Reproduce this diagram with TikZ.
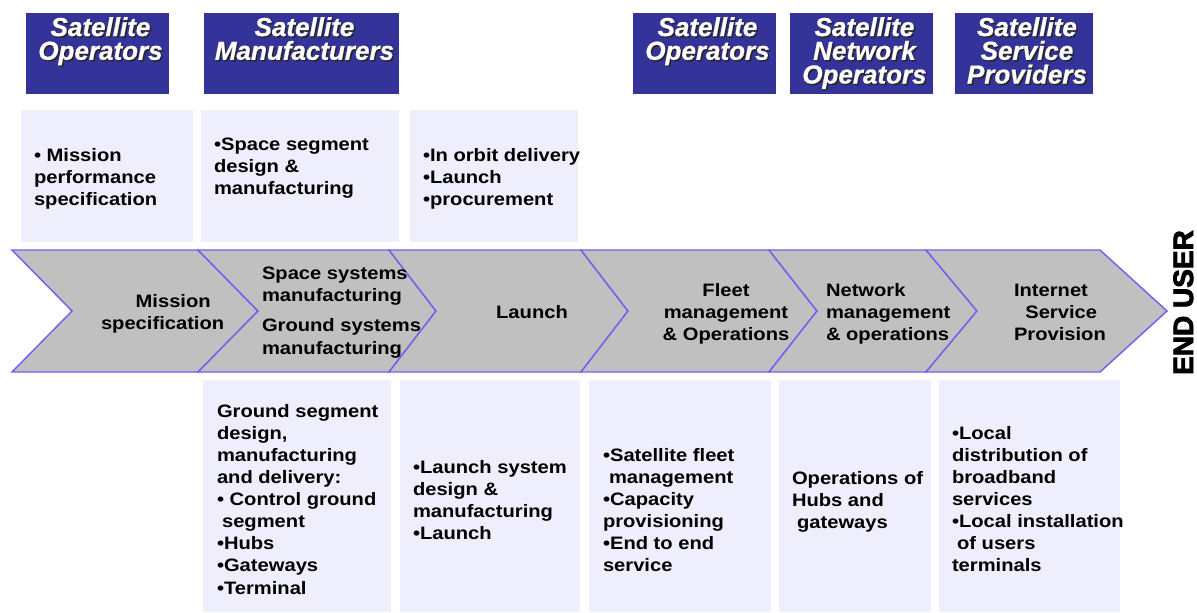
\documentclass[tikz,border=0pt]{standalone}
\usepackage{fontspec}
\setmainfont{Liberation Sans}
\newfontfamily\bodyfam{Liberation Sans}[FakeStretch=1.12]
\newfontfamily\hdrfam{Liberation Sans}[FakeBold=0.8]
\newfontfamily\heavyfam{Liberation Sans}[FakeBold=3]

\definecolor{hdrblue}{RGB}{51,51,153}
\definecolor{panel}{RGB}{238,238,252}
\definecolor{chevfill}{RGB}{192,192,192}
\definecolor{chevline}{RGB}{123,92,240}

% first-line struts: fix the height of the first line so "north" sits a known distance above its baseline
\newcommand\fl{\rule{0pt}{10.5pt}}
\newcommand\hfl{\rule{0pt}{14.5pt}}
% one header word, white over a dark drop shadow
\newcommand\shw[1]{\makebox[0pt][l]{\kern1.1pt\raisebox{-1.1pt}{\textcolor{black!85}{#1}}}#1}

\tikzset{
  hdrbox/.style={fill=hdrblue},
  panelbox/.style={fill=panel},
  chevron/.style={fill=chevfill, draw=chevline, line width=1.1pt, line join=miter},
  body/.style={font=\bodyfam\bfseries\fontsize{13.5pt}{16.6pt}\selectfont,
    text=black, inner sep=0pt, outer sep=0pt, align=left, anchor=north west},
  bodyc/.style={body, align=center, anchor=north},
  hdrtext/.style={font=\hdrfam\bfseries\itshape\fontsize{19.5pt}{17.8pt}\selectfont,
    text=white, inner sep=0pt, outer sep=0pt, align=center, anchor=north},
  enduser/.style={font=\heavyfam\bfseries\fontsize{21pt}{24pt}\selectfont,
    text=black, inner sep=0pt, anchor=base, rotate=90}
}

\begin{document}
\begin{tikzpicture}[x=0.75pt, y=-0.75pt]
\useasboundingbox (0,0) rectangle (1197,612);

% role headers
\fill[hdrbox] (26,13) rectangle (169,94);
\fill[hdrbox] (204,13) rectangle (399,94);
\fill[hdrbox] (633,13) rectangle (776,94);
\fill[hdrbox] (790,13) rectangle (933,94);
\fill[hdrbox] (955,13) rectangle (1093,94);
\node[hdrtext] (opA) at (100.5,16.7) {\hfl\shw{Satellite}\\\shw{Operators}};
\node[hdrtext] (man) at (304.5,16.7) {\hfl\shw{Satellite}\\\shw{Manufacturers}};
\node[hdrtext] (opB) at (707.5,16.7) {\hfl\shw{Satellite}\\\shw{Operators}};
\node[hdrtext] (netop) at (864.5,16.7) {\hfl\shw{Satellite}\\\shw{Network}\\\shw{Operators}};
\node[hdrtext] (svc) at (1027,16.7) {\hfl\shw{Satellite}\\\shw{Service}\\\shw{Providers}};

% upper activity panels
\fill[panelbox] (21,110) rectangle (193,242);
\fill[panelbox] (201,110) rectangle (399,242);
\fill[panelbox] (410,110) rectangle (578,242);
\node[body] (t1) at (34,147) {\fl• Mission\\performance\\specification};
\node[body] (t2) at (214,136) {\fl•Space segment\\design \&\\manufacturing};
\node[body] (t3) at (423,147) {\fl•In orbit delivery\\•Launch\\•procurement};

% value chain chevrons
\draw[chevron] (12,250) -- (198,250) -- (258,311) -- (198,372) -- (12,372) -- (72,311) -- cycle;
\draw[chevron] (198,250) -- (389,250) -- (436,311) -- (389,372) -- (198,372) -- (258,311) -- cycle;
\draw[chevron] (389,250) -- (581,250) -- (628,311) -- (581,372) -- (389,372) -- (436,311) -- cycle;
\draw[chevron] (581,250) -- (769,250) -- (817,311) -- (769,372) -- (581,372) -- (628,311) -- cycle;
\draw[chevron] (769,250) -- (926,250) -- (977,311) -- (926,372) -- (769,372) -- (817,311) -- cycle;
\draw[chevron] (926,250) -- (1100,250) -- (1167,311) -- (1100,372) -- (926,372) -- (977,311) -- cycle;

\node[body] (c1) at (101,293) {\fl\hspace*{26pt}Mission\\specification};
\node[body] (c2) at (262,265) {\fl Space systems\\manufacturing\\[6.5pt]Ground systems\\manufacturing};
\node[bodyc] (c3) at (532,304) {\fl Launch};
\node[bodyc] (c4) at (726,282) {\fl Fleet\\management\\\& Operations};
\node[body] (c5) at (826,282) {\fl Network\\management\\\& operations};
\node[body] (c6) at (1014,282) {\fl Internet\\\hspace*{8.5pt}Service\\Provision};

\node[enduser] (eu) at (1193,302.5) {END USER};

% lower activity panels
\fill[panelbox] (203,380) rectangle (391,612);
\fill[panelbox] (400,380) rectangle (580,612);
\fill[panelbox] (589,380) rectangle (771,612);
\fill[panelbox] (779,380) rectangle (931,612);
\fill[panelbox] (939,380) rectangle (1120,612);
\node[body] (b1) at (217,403) {\fl Ground segment\\design,\\manufacturing\\and delivery:\\• Control ground\\\hspace*{3.8pt}segment\\•Hubs\\•Gateways\\•Terminal};
\node[body] (b2) at (413,459) {\fl•Launch system\\design \&\\manufacturing\\•Launch};
\node[body] (b3) at (603,447) {\fl•Satellite fleet\\\hspace*{4.5pt}management\\•Capacity\\provisioning\\•End to end\\service};
\node[body] (b4) at (792,470) {\fl Operations of\\Hubs and\\\hspace*{3.8pt}gateways};
\node[body] (b5) at (952,425) {\fl•Local\\distribution of\\broadband\\services\\•Local installation\\\hspace*{3.8pt}of users\\terminals};
\end{tikzpicture}
\end{document}
